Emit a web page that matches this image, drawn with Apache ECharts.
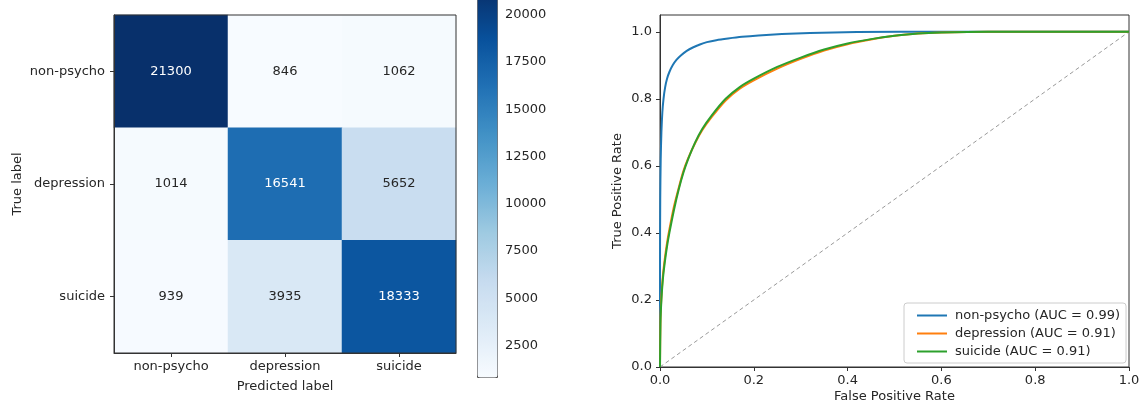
<!DOCTYPE html>
<html>
<head>
<meta charset="utf-8">
<script src="https://cdn.jsdelivr.net/npm/echarts@6/dist/echarts.min.js"></script>
<style>html,body{margin:0;padding:0;background:#fff}#c{width:1143px;height:403px}</style>
</head>
<body>
<div id="c"></div>
<script>
// ---------- data ----------
const classLabels = ['non-psycho', 'depression', 'suicide'];
// rows = true label, columns = predicted label
const cmRow0 = [21300, 846, 1062];
const cmRow1 = [1014, 16541, 5652];
const cmRow2 = [939, 3935, 18333];
const colorbarTicks = [2500, 5000, 7500, 10000, 12500, 15000, 17500, 20000];
const rocTicks = [0, 0.2, 0.4, 0.6, 0.8, 1.0];

const rocNonPsycho = [[0,0],[0,0.3],[0.0005,0.5],[0.0015,0.62],[0.003,0.7],[0.005,0.76],[0.0075,0.8],[0.011,0.835],[0.015,0.86],[0.02,0.88],[0.027,0.9],[0.035,0.916],[0.045,0.93],[0.057,0.943],[0.07,0.953],[0.085,0.962],[0.1,0.969],[0.12,0.975],[0.145,0.98],[0.175,0.985],[0.21,0.989],[0.26,0.993],[0.32,0.996],[0.42,0.999],[0.6,1],[1,1]];
const rocFprGrid = [0,0.001,0.003,0.006,0.01,0.015,0.02,0.03,0.04,0.05,0.06,0.075,0.09,0.11,0.14,0.17,0.2,0.25,0.3,0.35,0.4,0.45,0.5,0.55,0.6,0.7,1];
const rocDepressionTpr = [0,0.14,0.21,0.27,0.32,0.37,0.41,0.48,0.535,0.585,0.622,0.668,0.706,0.745,0.795,0.83,0.855,0.89,0.919,0.944,0.963,0.977,0.988,0.995,0.998,1,1];
const rocSuicideTpr = [0,0.13,0.2,0.26,0.31,0.36,0.4,0.47,0.53,0.58,0.62,0.67,0.71,0.75,0.8,0.835,0.86,0.895,0.923,0.947,0.965,0.978,0.988,0.995,0.998,1,1];
const aucNonPsycho = 0.99, aucDepression = 0.91, aucSuicide = 0.91;
const chanceLine = [[0,0],[1,1]];

// ---------- build ----------
const cm = [cmRow0, cmRow1, cmRow2];
const all = cm.flat();
const vMin = Math.min(...all), vMax = Math.max(...all);
const thresh = (vMin + vMax) / 2;
const heatData = [];
cm.forEach((row, r) => row.forEach((v, c) => {
  heatData.push({value: [c, r, v], label: {color: v > thresh ? '#ffffff' : '#262626'}});
}));
const rocDepression = rocFprGrid.map((x, i) => [x, rocDepressionTpr[i]]);
const rocSuicide = rocFprGrid.map((x, i) => [x, rocSuicideTpr[i]]);
const blues = ['#f7fbff','#deebf7','#c6dbef','#9ecae1','#6baed6','#4292c6','#2171b5','#08519c','#08306b'];
const FONT = 'DejaVu Sans';
const FS = 13;
const txt = '#262626';

const rocNames = [
  'non-psycho (AUC = ' + aucNonPsycho.toFixed(2) + ')',
  'depression (AUC = ' + aucDepression.toFixed(2) + ')',
  'suicide (AUC = ' + aucSuicide.toFixed(2) + ')'
];

const chart = echarts.init(document.getElementById('c'), null, {renderer: 'canvas'});
chart.setOption({
  backgroundColor: '#ffffff',
  animation: false,
  textStyle: {fontFamily: FONT},
  grid: [
    {left: 114, top: 15, width: 342, height: 338, show: true, borderColor: '#333', borderWidth: 1,
     backgroundColor: 'transparent', z: 5, outerBoundsMode: 'none'},
    {left: 660, top: 15, width: 469, height: 352, show: true, borderColor: '#333', borderWidth: 1,
     outerBoundsMode: 'none'},
    {left: 477, top: -10, width: 20, height: 387, show: false, outerBoundsMode: 'none'}
  ],
  xAxis: [
    {gridIndex: 0, type: 'category', data: classLabels, position: 'bottom', z: 6,
     name: 'Predicted label', nameLocation: 'middle', nameGap: 27, nameMoveOverlap: false,
     nameTextStyle: {fontSize: FS, color: txt, fontFamily: FONT},
     axisLine: {show: true, lineStyle: {color: '#333'}},
     axisTick: {show: true, alignWithLabel: true, length: 4, lineStyle: {color: '#333'}},
     axisLabel: {fontSize: FS, color: txt, margin: 7, fontFamily: FONT},
     splitLine: {show: false}, splitArea: {show: false}},
    {gridIndex: 1, type: 'value', min: 0, max: 1,
     name: 'False Positive Rate', nameLocation: 'middle', nameGap: 23, nameMoveOverlap: false,
     nameTextStyle: {fontSize: FS, color: txt, fontFamily: FONT},
     axisLine: {show: true, onZero: false, lineStyle: {color: '#333'}},
     axisTick: {show: true, length: 4, customValues: rocTicks, lineStyle: {color: '#333'}},
     axisLabel: {fontSize: FS, color: txt, margin: 7, customValues: rocTicks, fontFamily: FONT,
                 formatter: v => v.toFixed(1)},
     splitLine: {show: false}},
    {gridIndex: 2, type: 'value', show: false, min: 0, max: 1}
  ],
  yAxis: [
    {gridIndex: 0, type: 'category', data: classLabels, inverse: true, z: 6,
     name: 'True label', nameLocation: 'middle', nameGap: 90, nameRotate: 90, nameMoveOverlap: false,
     nameTextStyle: {fontSize: FS, color: txt, fontFamily: FONT},
     axisLine: {show: true, lineStyle: {color: '#333'}},
     axisTick: {show: true, alignWithLabel: true, length: 4, lineStyle: {color: '#333'}},
     axisLabel: {fontSize: FS, color: txt, margin: 9, fontFamily: FONT},
     splitLine: {show: false}, splitArea: {show: false}},
    {gridIndex: 1, type: 'value', min: 0, max: 1.05,
     name: 'True Positive Rate', nameLocation: 'middle', nameGap: 36, nameRotate: 90, nameMoveOverlap: false,
     nameTextStyle: {fontSize: FS, color: txt, fontFamily: FONT},
     axisLine: {show: true, onZero: false, lineStyle: {color: '#333'}},
     axisTick: {show: true, length: 4, customValues: rocTicks, lineStyle: {color: '#333'}},
     axisLabel: {fontSize: FS, color: txt, margin: 8, customValues: rocTicks, fontFamily: FONT,
                 formatter: v => v.toFixed(1)},
     splitLine: {show: false}},
    {gridIndex: 2, type: 'value', min: vMin, max: vMax, position: 'right',
     axisLine: {show: false},
     axisTick: {show: true, length: 4, customValues: colorbarTicks, lineStyle: {color: '#333'}},
     axisLabel: {fontSize: FS, color: txt, margin: 8, customValues: colorbarTicks, fontFamily: FONT,
                 formatter: v => String(v)},
     splitLine: {show: false}}
  ],
  visualMap: {
    type: 'continuous', seriesIndex: 0, min: vMin, max: vMax,
    inRange: {color: blues},
    calculable: false, hoverLink: false,
    orient: 'vertical', left: 477, top: -10,
    itemWidth: 20, itemHeight: 387, padding: 0,
    borderColor: '#555', borderWidth: 1,
    text: null, textStyle: {color: 'transparent'}
  },
  legend: {
    show: true, data: rocNames, orient: 'vertical',
    left: 904, top: 303,
    padding: [6, 6, 5, 13], itemGap: 5,
    itemWidth: 30, itemHeight: 2, icon: 'rect',
    borderColor: '#cccccc', borderWidth: 1, borderRadius: 3,
    backgroundColor: 'rgba(255,255,255,0.85)',
    textStyle: {fontSize: FS, color: txt, fontFamily: FONT, padding: [0,0,0,3]}
  },
  series: [
    {type: 'heatmap', xAxisIndex: 0, yAxisIndex: 0, data: heatData,
     label: {show: true, fontSize: FS, fontFamily: FONT},
     itemStyle: {borderWidth: 0}, emphasis: {disabled: true}},
    {type: 'line', xAxisIndex: 1, yAxisIndex: 1, data: chanceLine, showSymbol: false, silent: true,
     lineStyle: {color: '#999', width: 1, type: [4, 3]}, z: 1},
    {type: 'line', name: rocNames[0], xAxisIndex: 1, yAxisIndex: 1, data: rocNonPsycho, showSymbol: false,
     smooth: 0.25, color: '#1f77b4', lineStyle: {width: 2}, z: 2},
    {type: 'line', name: rocNames[1], xAxisIndex: 1, yAxisIndex: 1, data: rocDepression, showSymbol: false,
     smooth: 0.25, color: '#ff7f0e', lineStyle: {width: 2}, z: 3},
    {type: 'line', name: rocNames[2], xAxisIndex: 1, yAxisIndex: 1, data: rocSuicide, showSymbol: false,
     smooth: 0.25, color: '#2ca02c', lineStyle: {width: 2}, z: 4}
  ]
});
</script>
</body>
</html>
